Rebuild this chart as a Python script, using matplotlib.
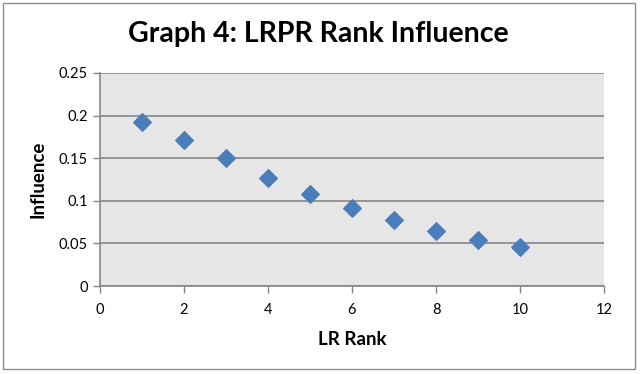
import matplotlib.pyplot as plt
from matplotlib.patches import Rectangle

plt.rcParams['font.family'] = ['Lato', 'DejaVu Sans']

lr_rank = [1, 2, 3, 4, 5, 6, 7, 8, 9, 10]
influence = [0.193, 0.171, 0.150, 0.127, 0.108, 0.092, 0.077, 0.065, 0.054, 0.046]
x_ticks = [0, 2, 4, 6, 8, 10, 12]
y_ticks = [0, 0.05, 0.1, 0.15, 0.2, 0.25]
y_tick_labels = ['0', '0.05', '0.1', '0.15', '0.2', '0.25']

fig = plt.figure(figsize=(6.4, 3.74), dpi=100)
ax = fig.add_axes([0.156, 0.235, 0.788, 0.570])

# chart frame
fig.patches.append(Rectangle((0.005, 0.013), 0.987, 0.979, transform=fig.transFigure,
                             fill=False, edgecolor='#8c8c8c', lw=1.0))

ax.set_facecolor('#e6e6e6')
ax.scatter(lr_rank, influence, marker='D', s=80, color='#4a7ebb', zorder=3)

ax.set_xlim(0, 12)
ax.set_ylim(0, 0.25)
ax.set_xticks(x_ticks)
ax.set_yticks(y_ticks)
ax.set_yticklabels(y_tick_labels)
ax.yaxis.grid(True, color='#868686', lw=1.2)
ax.set_axisbelow(True)

for s in ['top', 'right']:
    ax.spines[s].set_visible(False)
for s in ['left', 'bottom']:
    ax.spines[s].set_color('#868686')
    ax.spines[s].set_linewidth(1.2)
ax.tick_params(axis='both', colors='#868686', length=5, width=1.0, labelsize=10.5,
               labelcolor='black', direction='out')
ax.tick_params(axis='x', pad=7)

ax.set_xlabel('LR Rank', fontsize=13.5, fontweight='bold', labelpad=10)
ax.set_ylabel('Influence', fontsize=13.5, fontweight='bold', labelpad=9)
fig.text(0.497, 0.91, 'Graph 4: LRPR Rank Influence', ha='center', va='center',
         fontsize=20.5, fontweight='bold')

fig.savefig('out.png', dpi=100)
